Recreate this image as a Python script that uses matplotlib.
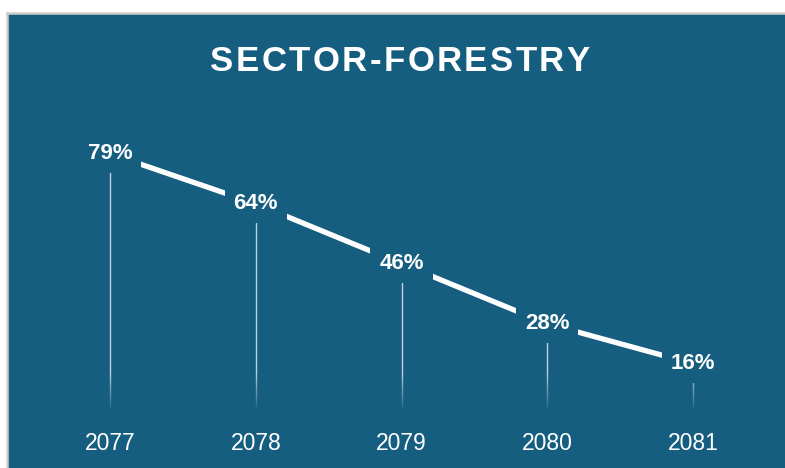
import matplotlib
matplotlib.use("Agg")
import matplotlib.pyplot as plt
import numpy as np
from matplotlib.patches import Rectangle
from matplotlib.lines import Line2D
from matplotlib.collections import LineCollection

years = ["2077", "2078", "2079", "2080", "2081"]
shares = [79, 64, 46, 28, 16]
title = "SECTOR-FORESTRY"

BG = "#165E80"
W, H = 785, 468

fig = plt.figure(figsize=(W / 100, H / 100), dpi=100)
fig.patch.set_facecolor("white")

# panel with a thin grey frame on the top and left
px0, py0 = 7, 13
fig.patches.append(Rectangle((px0 / W, 0), 1 - px0 / W, 1 - py0 / H,
                             transform=fig.transFigure, facecolor=BG,
                             edgecolor="none", zorder=-3))
fig.lines.append(Line2D([px0 / W, 1], [1 - py0 / H] * 2, transform=fig.transFigure,
                        color="#cfcfcf", lw=1.8, zorder=-2))
fig.lines.append(Line2D([px0 / W] * 2, [0, 1 - py0 / H], transform=fig.transFigure,
                        color="#cfcfcf", lw=1.8, zorder=-2))

# axes spanning the figure; x index -> pixel, value -> pixel
ax = fig.add_axes([0, 0, 1, 1])
ax.set_facecolor("none")
ax.set_zorder(1)
x0_px, dx_px = 110, 145.75
y0_px, dy_px = 51, 3.333
ax.set_xlim(-x0_px / dx_px, (W - x0_px) / dx_px)
ax.set_ylim(-y0_px / dy_px, (H - y0_px) / dy_px)
ax.axis("off")

x = np.arange(len(years))

# drop lines from each point towards the baseline, fading out at the bottom
drop_col = (0.86, 0.89, 0.93)
bottom = 2.0
fade_len = 35 / dy_px
segs, cols = [], []
for xi, v in zip(x, shares):
    top = v - 18 / dy_px
    fade_top = min(top, bottom + fade_len)
    if top > fade_top:
        ax.plot([xi, xi], [top, fade_top], color=drop_col, alpha=0.85,
                lw=1.0, solid_capstyle="butt", zorder=2)
    ys = np.linspace(fade_top, bottom, 25)
    for i in range(len(ys) - 1):
        segs.append([(xi, ys[i]), (xi, ys[i + 1])])
        f = (ys[i] - bottom) / fade_len
        cols.append((*drop_col, 0.85 * f))
ax.add_collection(LineCollection(segs, colors=cols, linewidths=1.0,
                                 capstyle="butt", zorder=2))

# main trend line
ax.plot(x, shares, color="white", lw=3.8, solid_capstyle="butt", zorder=3)

for xi, v, yr in zip(x, shares, years):
    ax.text(xi, v, f"{v}%", ha="center", va="center", color="white",
            fontsize=16, fontweight="bold", family="Liberation Sans", zorder=4,
            bbox=dict(boxstyle="square,pad=0.4", facecolor=BG, edgecolor="none"))
    ax.text(xi, (H - 444 - y0_px) / dy_px, yr, ha="center",
            va="center", color="white", fontsize=16.5, family="Liberation Sans",
            zorder=4)

# spaced-out title
renderer = fig.canvas.get_renderer()
spacing = 2.4
chars = []
for ch in title:
    t = fig.text(0, 1 - 58 / H, ch, ha="left", va="center_baseline", color="white",
                 fontsize=25, fontweight="bold", family="Liberation Sans")
    chars.append(t)
widths = [t.get_window_extent(renderer).width for t in chars]
total = sum(widths) + spacing * (len(chars) - 1)
cx = 400
xpos = cx - total / 2
for t, w in zip(chars, widths):
    t.set_x(xpos / W)
    xpos += w + spacing

fig.savefig("out.png", dpi=100, facecolor=fig.get_facecolor())
